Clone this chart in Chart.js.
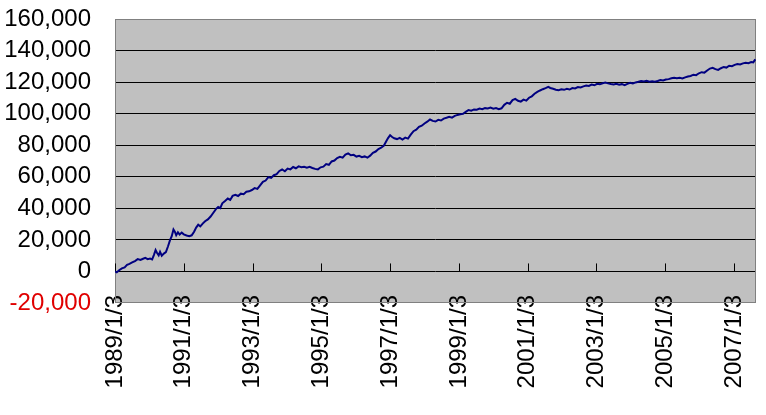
<!DOCTYPE html>
<html>
<head>
<meta charset="utf-8">
<script src="https://cdn.jsdelivr.net/npm/chart.js@4.4.1/dist/chart.umd.min.js"></script>
<style>
  html, body { margin: 0; padding: 0; background: #fff; }
  #wrap { width: 766px; height: 415px; }
</style>
</head>
<body>
<div id="wrap"><canvas id="equityChart"></canvas></div>
<script>
// x axis tick positions (decimal years) and their labels
const tickYears = [1989, 1991, 1993, 1995, 1997, 1999, 2001, 2003, 2005, 2007];
const tickLabels = ['1989/1/3', '1991/1/3', '1993/1/3', '1995/1/3', '1997/1/3',
  '1999/1/3', '2001/1/3', '2003/1/3', '2005/1/3', '2007/1/3'];

// cumulative equity curve
const years = [
  1989.00, 1989.05, 1989.12, 1989.20, 1989.28, 1989.35, 1989.42, 1989.50, 1989.58, 1989.66,
  1989.74, 1989.80, 1989.88, 1989.95, 1990.02, 1990.08, 1990.13, 1990.18, 1990.22, 1990.27,
  1990.31, 1990.36, 1990.42, 1990.48, 1990.54, 1990.60, 1990.65, 1990.70, 1990.74, 1990.78,
  1990.83, 1990.88, 1990.94, 1991.00, 1991.08, 1991.16, 1991.23, 1991.30, 1991.36, 1991.42,
  1991.48, 1991.55, 1991.62, 1991.70, 1991.78, 1991.86, 1991.94, 1992.00, 1992.06, 1992.12,
  1992.20, 1992.28, 1992.35, 1992.42, 1992.50, 1992.58, 1992.66, 1992.74, 1992.82, 1992.90,
  1992.98, 1993.06, 1993.14, 1993.22, 1993.30, 1993.38, 1993.46, 1993.54, 1993.62, 1993.70,
  1993.78, 1993.86, 1993.94, 1994.02, 1994.10, 1994.18, 1994.26, 1994.34, 1994.42, 1994.50,
  1994.58, 1994.66, 1994.74, 1994.82, 1994.90, 1994.98, 1995.06, 1995.14, 1995.22, 1995.30,
  1995.38, 1995.46, 1995.54, 1995.62, 1995.70, 1995.78, 1995.86, 1995.94, 1996.02, 1996.10,
  1996.18, 1996.26, 1996.34, 1996.42, 1996.50, 1996.58, 1996.66, 1996.74, 1996.82, 1996.88,
  1996.94, 1997.00, 1997.06, 1997.12, 1997.20, 1997.28, 1997.36, 1997.44, 1997.52, 1997.60,
  1997.68, 1997.76, 1997.84, 1997.92, 1998.00, 1998.08, 1998.16, 1998.24, 1998.32, 1998.40,
  1998.48, 1998.56, 1998.64, 1998.72, 1998.80, 1998.88, 1998.96, 1999.04, 1999.12, 1999.20,
  1999.28, 1999.36, 1999.44, 1999.52, 1999.60, 1999.68, 1999.76, 1999.84, 1999.92, 2000.00,
  2000.08, 2000.16, 2000.24, 2000.32, 2000.40, 2000.48, 2000.56, 2000.64, 2000.72, 2000.80,
  2000.88, 2000.96, 2001.04, 2001.12, 2001.20, 2001.28, 2001.36, 2001.44, 2001.52, 2001.60,
  2001.66, 2001.74, 2001.82, 2001.90, 2001.98, 2002.06, 2002.14, 2002.22, 2002.30, 2002.38,
  2002.46, 2002.54, 2002.62, 2002.70, 2002.78, 2002.86, 2002.94, 2003.02, 2003.10, 2003.18,
  2003.26, 2003.34, 2003.42, 2003.50, 2003.58, 2003.66, 2003.74, 2003.82, 2003.90, 2003.98,
  2004.06, 2004.14, 2004.22, 2004.30, 2004.38, 2004.46, 2004.54, 2004.62, 2004.70, 2004.78,
  2004.86, 2004.94, 2005.02, 2005.10, 2005.18, 2005.26, 2005.34, 2005.42, 2005.50, 2005.58,
  2005.66, 2005.74, 2005.82, 2005.90, 2005.98, 2006.06, 2006.14, 2006.22, 2006.30, 2006.38,
  2006.46, 2006.54, 2006.62, 2006.70, 2006.78, 2006.86, 2006.94, 2007.02, 2007.10, 2007.18,
  2007.26, 2007.34, 2007.42, 2007.50, 2007.56, 2007.62
];
const equity = [
  0, -600, 800, 1900, 2600, 4200, 4800, 5700, 6600, 7800,
  7300, 7900, 8600, 7800, 8200, 7600, 10400, 13500, 11800, 10200,
  12400, 10000, 11300, 12200, 15800, 19800, 22300, 26600, 25200, 23000,
  24800, 23400, 24600, 23500, 22800, 22400, 22900, 25200, 27800, 29600,
  28600, 30300, 31800, 33000, 34800, 37200, 39700, 40800, 40100, 43200,
  44600, 46200, 45300, 47900, 48600, 47800, 49300, 49000, 50500, 50800,
  51600, 52800, 52300, 54600, 56800, 57600, 59800, 59300, 61000, 61700,
  63700, 64600, 63500, 65200, 64700, 66200, 65400, 66600, 66100, 66400,
  65800, 66300, 65600, 65000, 64700, 66000, 66400, 68100, 67600, 69700,
  70300, 71900, 72600, 72100, 74000, 74800, 73600, 73900, 72800, 73300,
  72400, 72900, 72100, 73400, 75200, 76000, 77600, 78400, 79800, 82200,
  84500, 86300, 85200, 84400, 83900, 84700, 83600, 84800, 84200, 86700,
  88900, 89800, 91600, 92400, 93800, 94900, 96300, 95400, 95000, 96100,
  95700, 96900, 97400, 98000, 97500, 98600, 99200, 99600, 99900, 101100,
  102300, 101900, 102700, 102500, 103200, 102800, 103500, 103300, 103900, 103200,
  103600, 102900, 103400, 105600, 106900, 106300, 108600, 109400, 108200, 107600,
  108900, 108300, 110100, 111000, 112600, 113800, 114700, 115500, 116200, 117000,
  116300, 115800, 115200, 114900, 115400, 115100, 115700, 115300, 116200, 116000,
  116900, 116600, 117300, 117800, 117600, 118400, 118000, 118900, 118600, 119300,
  119700, 119200, 118800, 118500, 118900, 118300, 118700, 118100, 118900, 119500,
  119100, 119800, 120200, 120700, 120400, 120800, 120300, 120600, 120200, 120700,
  121300, 121000, 121600, 121900, 122400, 122800, 122500, 122700, 122300, 123000,
  123600, 123900, 124700, 124400, 125600, 126300, 126000, 127400, 128600, 129100,
  128200, 127700, 128800, 129600, 129200, 130400, 130100, 130900, 131500, 131200,
  131900, 132300, 132000, 132700, 132500, 134400
];

const fontFamily = "'Liberation Sans', Arial, sans-serif";

// gray plot area, border and the short x ticks standing on the zero line
const plotFrame = {
  id: 'plotFrame',
  beforeDraw(chart) {
    const { ctx, chartArea: a } = chart;
    ctx.save();
    ctx.fillStyle = '#C0C0C0';
    ctx.fillRect(a.left, a.top, a.width, a.height);
    ctx.restore();
  },
  beforeDatasetsDraw(chart) {
    const { ctx, chartArea: a } = chart;
    const xs = chart.scales.x;
    const y0 = chart.scales.y.getPixelForValue(0);
    ctx.save();
    ctx.strokeStyle = '#808080';
    ctx.lineWidth = 1;
    ctx.strokeRect(a.left + 0.5, a.top + 0.5, a.width - 1, a.height - 1);
    ctx.strokeStyle = '#000';
    ctx.beginPath();
    xs.ticks.forEach(t => {
      const px = Math.round(xs.getPixelForValue(t.value)) + 0.5;
      ctx.moveTo(px, y0 - 8);
      ctx.lineTo(px, y0);
    });
    ctx.stroke();
    ctx.restore();
  }
};

const ctx = document.getElementById('equityChart').getContext('2d');
new Chart(ctx, {
  type: 'line',
  data: {
    datasets: [{
      data: years.map((x, i) => ({ x: x, y: equity[i] })),
      borderColor: '#000080',
      borderWidth: 2,
      pointRadius: 0,
      tension: 0,
      fill: false
    }]
  },
  options: {
    responsive: true,
    maintainAspectRatio: false,
    animation: false,
    layout: { padding: { left: 0, right: 10, top: 0, bottom: 0 } },
    plugins: { legend: { display: false }, tooltip: { enabled: false } },
    scales: {
      x: {
        type: 'linear',
        min: 1989,
        max: 2007.64,
        grid: { display: false, drawTicks: false },
        border: { display: false },
        afterBuildTicks: scale => { scale.ticks = tickYears.map(v => ({ value: v })); },
        afterFit: scale => {
          scale.height = 112;
          // let the labels overlap the bottom edge of the plot, as in the original
          scale._computeLabelArea = () => undefined;
        },
        ticks: {
          autoSkip: false,
          minRotation: 90,
          maxRotation: 90,
          padding: -8,
          color: '#000',
          font: { family: fontFamily, size: 24 },
          callback: (v, i) => tickLabels[i]
        }
      },
      y: {
        min: -20000,
        max: 160000,
        grid: {
          drawTicks: false,
          color: c => (c.tick.value === 160000 || c.tick.value === -20000) ? 'rgba(0,0,0,0)' : '#000',
          lineWidth: 1
        },
        border: { display: false },
        afterFit: scale => {
          scale.width = 115;
          scale.paddingTop = 19;
          scale.paddingBottom = 14;
        },
        ticks: {
          autoSkip: false,
          stepSize: 20000,
          padding: 24,
          font: { family: fontFamily, size: 24 },
          color: c => c.tick.value < 0 ? '#E00000' : '#000',
          callback: v => v.toLocaleString('en-US')
        }
      }
    }
  },
  plugins: [plotFrame]
});
</script>
</body>
</html>
